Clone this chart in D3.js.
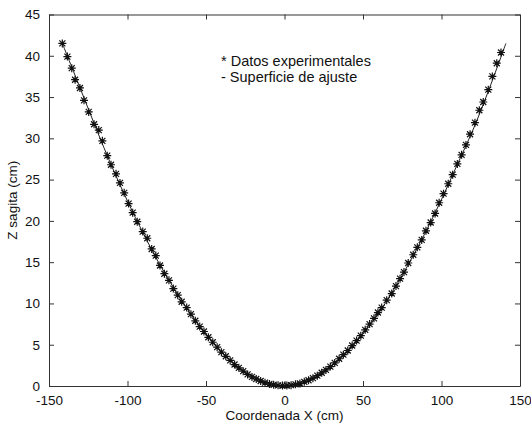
<!DOCTYPE html>
<html>
<head>
<meta charset="utf-8">
<script src="https://cdn.jsdelivr.net/npm/d3@7"></script>
<style>
	body { margin: 0; background: #fff; }
	svg { display: block; font-family: Arial, 'Liberation Sans', sans-serif; }
	.tick text { fill: #111; }
</style>
</head>
<body>
<svg id="chart" width="531" height="427"></svg>
<script>
const expX = [
	-141.5, -138.3, -135.5, -133.4, -130.3, -127.7, -124.7, -121.3, -118.3, -116.0,
	-112.9, -110.5, -107.3, -104.8, -102.1, -99.3, -96.7, -93.8, -90.3, -87.4,
	-84.6, -82.0, -79.3, -76.5, -73.6, -70.8, -68.0, -65.5, -62.3, -59.6,
	-56.8, -54.0, -51.3, -48.5, -45.7, -42.9, -40.2, -37.4, -34.6, -31.8,
	-29.1, -26.3, -23.5, -20.7, -18.0, -15.2, -12.4, -9.6, -6.9, -4.1,
	-1.3, 1.5, 4.2, 7.0, 9.8, 12.6, 15.3, 18.1, 20.9, 23.7,
	26.4, 29.2, 32.0, 34.8, 37.5, 40.3, 43.1, 45.9, 48.6, 51.4,
	54.2, 57.0, 59.5, 61.9, 65.1, 68.3, 71.0, 73.6, 76.1, 78.8,
	82.0, 84.6, 87.4, 90.1, 93.1, 95.9, 98.5, 101.3, 104.3, 107.1,
	110.1, 112.8, 115.6, 118.2, 121.3, 124.1, 126.6, 129.8, 132.4, 135.2,
	137.9
];
const expZ = [
	41.5, 39.9, 38.5, 37.1, 36.1, 34.6, 33.2, 31.7, 31.0, 29.7,
	27.9, 26.8, 25.7, 24.6, 23.4, 22.1, 21.0, 19.9, 18.7, 17.9,
	16.6, 15.8, 14.6, 13.6, 12.8, 11.8, 11.0, 10.2, 9.5, 8.7,
	7.9, 7.2, 6.6, 5.9, 5.3, 4.7, 4.1, 3.6, 3.1, 2.6,
	2.2, 1.8, 1.4, 1.1, 0.85, 0.6, 0.4, 0.25, 0.15, 0.08,
	0.05, 0.06, 0.1, 0.2, 0.3, 0.5, 0.7, 0.95, 1.25, 1.6,
	1.95, 2.35, 2.8, 3.3, 3.8, 4.3, 4.9, 5.5, 6.1, 6.8,
	7.5, 8.2, 8.9, 9.5, 10.4, 11.2, 12.1, 13.0, 13.8, 14.9,
	15.9, 16.8, 17.7, 18.8, 19.8, 20.9, 22.2, 23.3, 24.5, 25.6,
	26.9, 28.0, 29.2, 30.5, 31.9, 33.4, 34.4, 35.9, 37.5, 39.1,
	40.4
];

// fitted surface profile
const fitX = [-141.5, -130, -120, -110, -100, -90, -80, -70, -60, -50, -40, -30, -20, -10, 0,
	10, 20, 30, 40, 50, 60, 70, 80, 90, 100, 110, 120, 130, 141];
const fitZ = [41.5, 36.0, 31.2, 26.6, 22.4, 18.5, 14.9, 11.7, 8.8, 6.3, 4.1, 2.4, 1.1, 0.3, 0,
	0.3, 1.1, 2.4, 4.1, 6.3, 8.8, 11.8, 15.1, 18.7, 22.6, 26.8, 31.0, 35.8, 41.5];

const xTicks = [-150, -100, -50, 0, 50, 100, 150];
const yTicks = [0, 5, 10, 15, 20, 25, 30, 35, 40, 45];
const legendLines = ['* Datos experimentales', '- Superficie de ajuste'];

const margin = { top: 14.5, right: 11, bottom: 41, left: 49 };
const width = 531;
const height = 427;
const TICK = 5;
const fmt = d => String(d); // plain hyphen minus, like the original

const $svg = d3.select('#chart');

const x = d3.scaleLinear().domain([-150, 150]).range([margin.left, width - margin.right]);
const y = d3.scaleLinear().domain([0, 45]).range([height - margin.bottom, margin.top]);

// axes, ticks pointing inward on all four sides
const $axes = $svg.append('g').attr('class', 'axes');

$axes.append('g')
	.attr('transform', `translate(0,${y(0)})`)
	.call(d3.axisBottom(x).tickValues(xTicks).tickFormat(fmt).tickSizeInner(-TICK).tickSizeOuter(0).tickPadding(9))
	.call(g => g.selectAll('text').attr('font-size', 13.5));
$axes.append('g')
	.attr('transform', `translate(0,${y(45)})`)
	.call(d3.axisTop(x).tickValues(xTicks).tickSizeInner(-TICK).tickSizeOuter(0).tickFormat(''));
$axes.append('g')
	.attr('transform', `translate(${x(-150)},0)`)
	.call(d3.axisLeft(y).tickValues(yTicks).tickFormat(fmt).tickSizeInner(-TICK).tickSizeOuter(0).tickPadding(9))
	.call(g => g.selectAll('text').attr('font-size', 13.5));
$axes.append('g')
	.attr('transform', `translate(${x(150)},0)`)
	.call(d3.axisRight(y).tickValues(yTicks).tickSizeInner(-TICK).tickSizeOuter(0).tickFormat(''));

$axes.selectAll('.domain, .tick line').attr('stroke', '#333').attr('stroke-width', 1);
$axes.selectAll('text').attr('font-family', 'Arial, "Liberation Sans", sans-serif');

// fitted line
const line = d3.line()
	.x((d, i) => x(fitX[i]))
	.y(d => y(d))
	.curve(d3.curveCatmullRom);

$svg.append('path')
	.datum(fitZ)
	.attr('d', line)
	.attr('fill', 'none')
	.attr('stroke', '#222')
	.attr('stroke-width', 1);

// asterisk markers
const star = 'M-4,0H4M0,-4V4M-3,-3L3,3M-3,3L3,-3';
$svg.append('g')
	.selectAll('path.star')
	.data(expZ)
	.join('path')
	.attr('class', 'star')
	.attr('transform', (d, i) => `translate(${x(expX[i])},${y(d)})`)
	.attr('d', star)
	.attr('fill', 'none')
	.attr('stroke', '#111')
	.attr('stroke-width', 1.2);

// legend text
$svg.append('g')
	.selectAll('text')
	.data(legendLines)
	.join('text')
	.attr('x', 221)
	.attr('y', (d, i) => 66 + i * 15.5)
	.attr('font-size', 14.5)
	.attr('fill', '#111')
	.text(d => d);

// axis titles
$svg.append('text')
	.attr('x', (x(-150) + x(150)) / 2)
	.attr('y', 420)
	.attr('text-anchor', 'middle')
	.attr('font-size', 13.5)
	.attr('fill', '#111')
	.text('Coordenada X (cm)');

$svg.append('text')
	.attr('transform', `translate(17,${(y(0) + y(45)) / 2}) rotate(-90)`)
	.attr('text-anchor', 'middle')
	.attr('font-size', 13.5)
	.attr('fill', '#111')
	.text('Z sagita (cm)');
</script>
</body>
</html>
